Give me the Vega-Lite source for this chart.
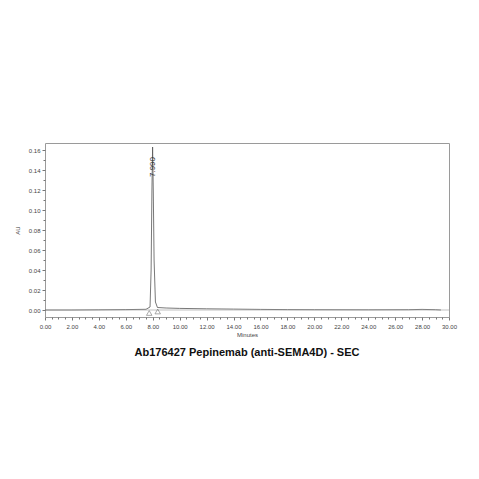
{
  "$schema": "https://vega.github.io/schema/vega-lite/v6.json",
  "autosize": "none",
  "width": 404,
  "height": 174,
  "padding": {"left": 45, "top": 143, "right": 30, "bottom": 162},
  "background": "white",
  "config": {
    "font": "Liberation Sans",
    "view": {"stroke": "#9a9a9a", "strokeWidth": 1},
    "axis": {"grid": false, "domain": false, "labelFont": "Liberation Sans", "titleFont": "Liberation Sans", "labelFontSize": 6, "titleFontSize": 6, "titleFontWeight": "normal", "labelColor": "#444", "titleColor": "#444", "tickColor": "#777", "tickSize": 3, "labelOverlap": false, "labelFlush": false, "labelBound": false}
  },
  "title": {"text": "Ab176427 Pepinemab (anti-SEMA4D) - SEC", "orient": "bottom", "fontSize": 11, "fontWeight": "bold", "color": "#111", "offset": 10, "font": "Liberation Sans"},
  "datasets": {
    "trace": [
      {"t": 0.0, "au": 0.0},
      {"t": 2.0, "au": 0.0},
      {"t": 4.0, "au": 0.0002},
      {"t": 6.0, "au": 0.0004},
      {"t": 7.5, "au": 0.0007},
      {"t": 7.8, "au": 0.003},
      {"t": 7.88, "au": 0.04},
      {"t": 7.94, "au": 0.12},
      {"t": 7.99, "au": 0.163},
      {"t": 8.04, "au": 0.12},
      {"t": 8.1, "au": 0.05},
      {"t": 8.2, "au": 0.008},
      {"t": 8.35, "au": 0.0025},
      {"t": 9.0, "au": 0.002},
      {"t": 10.0, "au": 0.0016},
      {"t": 12.0, "au": 0.0012},
      {"t": 14.0, "au": 0.0009},
      {"t": 16.0, "au": 0.0006},
      {"t": 18.0, "au": 0.0004},
      {"t": 20.0, "au": 0.0003},
      {"t": 24.0, "au": 0.0002},
      {"t": 27.0, "au": 0.0003},
      {"t": 28.0, "au": 0.0006},
      {"t": 29.0, "au": 0.0003},
      {"t": 29.4, "au": 0.0}
    ],
    "marks": [
      {"t": 7.74, "au": -0.003},
      {"t": 8.37, "au": -0.0015}
    ],
    "peak": [
      {"t": 7.99, "au": 0.143, "label": "7.990"}
    ]
  },
  "resolve": {"axis": {"x": "independent", "y": "independent"}},
  "layer": [
    {
      "data": {"name": "trace"},
      "mark": {"type": "line", "color": "#555", "strokeWidth": 0.8, "clip": true},
      "encoding": {
        "x": {"field": "t", "type": "quantitative", "scale": {"domain": [0, 30], "nice": false}, "title": "Minutes",
              "axis": {"orient": "bottom", "values": [0,2,4,6,8,10,12,14,16,18,20,22,24,26,28,30], "format": ".2f", "titlePadding": 2, "labelPadding": 3}},
        "y": {"field": "au", "type": "quantitative", "scale": {"domain": [-0.007, 0.167], "nice": false, "zero": false}, "title": "AU",
              "axis": {"orient": "left", "values": [0, 0.02, 0.04, 0.06, 0.08, 0.1, 0.12, 0.14, 0.16], "format": ".2f", "titlePadding": 8}}
      }
    },
    {
      "data": {"values": [{"a": 1}]},
      "mark": {"type": "rule", "color": "#999", "strokeWidth": 0.6},
      "encoding": {
        "x": {"datum": 0, "type": "quantitative", "scale": {"domain": [0, 30], "nice": false},
              "axis": {"orient": "bottom", "values": [0.5,1,1.5,2.5,3,3.5,4.5,5,5.5,6.5,7,7.5,8.5,9,9.5,10.5,11,11.5,12.5,13,13.5,14.5,15,15.5,16.5,17,17.5,18.5,19,19.5,20.5,21,21.5,22.5,23,23.5,24.5,25,25.5,26.5,27,27.5,28.5,29,29.5], "labels": false, "title": null, "tickSize": 2}},
        "y": {"datum": 0.0, "type": "quantitative",
              "axis": {"orient": "left", "values": [0.01,0.03,0.05,0.07,0.09,0.11,0.13,0.15], "labels": false, "title": null, "tickSize": 2}},
        "x2": {"datum": 30}
      }
    },
    {
      "data": {"name": "marks"},
      "mark": {"type": "point", "shape": "triangle-up", "filled": false, "color": "#555", "size": 30, "strokeWidth": 0.7},
      "encoding": {
        "x": {"field": "t", "type": "quantitative", "axis": null},
        "y": {"field": "au", "type": "quantitative", "axis": null}
      }
    },
    {
      "data": {"name": "peak"},
      "mark": {"type": "text", "angle": 270, "fontSize": 8, "color": "#333", "font": "Liberation Sans"},
      "encoding": {
        "x": {"field": "t", "type": "quantitative", "axis": null},
        "y": {"field": "au", "type": "quantitative", "axis": null},
        "text": {"field": "label"}
      }
    }
  ]
}
